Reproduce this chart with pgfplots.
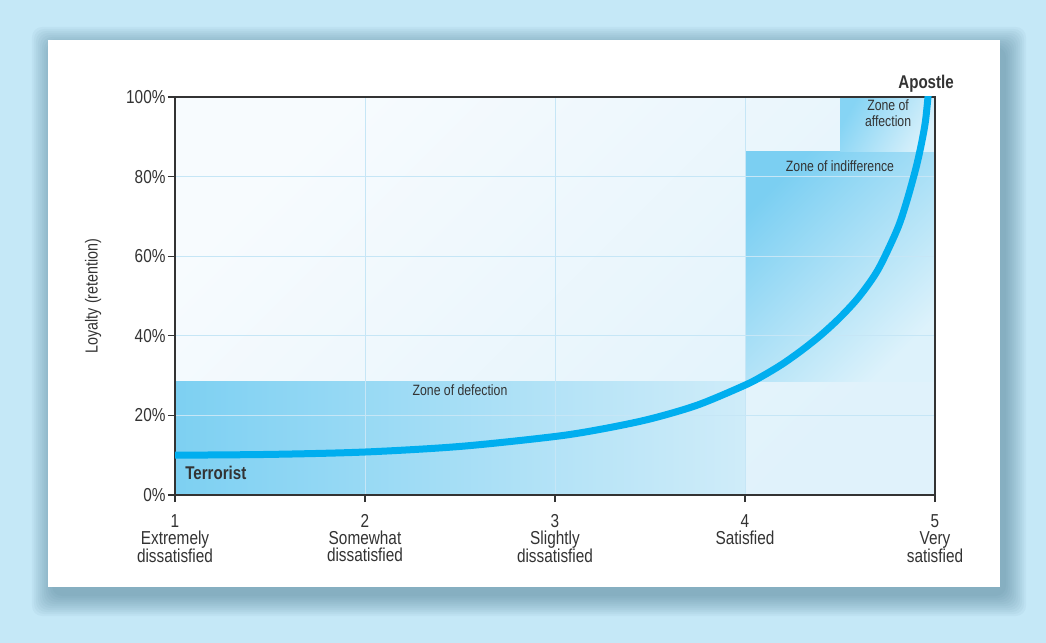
\documentclass[border=0pt]{standalone}
\usepackage{fontspec}
\setmainfont{Liberation Sans}[FakeStretch=0.82]
\usepackage{pgfplots}
\pgfplotsset{compat=1.18}
\definecolor{outerbg}{HTML}{C5E8F7}
\definecolor{shadowc}{HTML}{3F6E86}
\definecolor{axtop}{HTML}{F7FBFE}
\definecolor{axbot}{HTML}{E0F2FB}
\definecolor{gridc}{HTML}{C6E6F6}
\definecolor{axc}{HTML}{333333}
\definecolor{txtc}{HTML}{333333}
\definecolor{curvec}{HTML}{00AEEF}
\definecolor{defA}{HTML}{7DD0F2}
\definecolor{defB}{HTML}{CFECF9}
\definecolor{indA}{HTML}{7BCFF2}
\definecolor{indB}{HTML}{DDF2FB}
\definecolor{affA}{HTML}{86D4F4}
\definecolor{affB}{HTML}{DAF1FB}
\pgfplotsset{
  layers/mylayers/.define layer set={
    bgcard,axis background,axis grid,axis ticks,axis lines,axis tick labels,pre main,main,axis descriptions,axis foreground
  }{
    grid style={/pgfplots/on layer=axis grid},
    tick style={/pgfplots/on layer=axis ticks},
    axis line style={/pgfplots/on layer=axis lines},
    label style={/pgfplots/on layer=axis descriptions},
    legend style={/pgfplots/on layer=axis descriptions},
    title style={/pgfplots/on layer=axis descriptions},
    ticklabel style={/pgfplots/on layer=axis tick labels},
    axis background@ style={/pgfplots/on layer=axis background},
  },
}
\begin{document}
\begin{tikzpicture}
\begin{axis}[
  set layers=mylayers,
  clip mode=individual,
  scale only axis, width=760bp, height=398bp,
  xmin=1, xmax=5, ymin=0, ymax=100,
  axis background/.style={top color=axtop, bottom color=axbot, shading angle=45},
  xtick={1,2,3,4,5},
  xticklabels={{1\\Extremely\\dissatisfied},{2\\Somewhat\\dissatisfied},{3\\Slightly\\dissatisfied},{4\\Satisfied},{5\\Very\\satisfied}},
  ytick={0,20,40,60,80,100},
  yticklabels={0\%,20\%,40\%,60\%,80\%,100\%},
  xtick pos=bottom, ytick pos=left,
  tick align=outside,
  major tick length=7bp,
  grid=major,
  major grid style={draw=gridc, line width=1bp},
  axis line style={draw=axc, line width=1.3bp},
  tick style={draw=axc, line width=1.1bp},
  tick label style={font=\fontsize{18.8}{17}\selectfont, text=txtc},
  xticklabel style={align=center, yshift=-9bp},
  yticklabel style={xshift=1bp},
]
\begin{pgfonlayer}{bgcard}
\path[use as bounding box, fill=outerbg] ([xshift=-175bp,yshift=-148bp]axis cs:1,0) rectangle ([xshift=871bp,yshift=495bp]axis cs:1,0);
\pgfplotsinvokeforeach{1,3,5,7,9,11,13,15,17,19,21}{
  \fill[shadowc, opacity=0.05, rounded corners=10bp] ([xshift=-122bp-#1bp,yshift=-100bp-#1bp]axis cs:1,0) rectangle ([xshift=830bp+#1bp,yshift=447bp+#1bp]axis cs:1,0);
}
\fill[white] ([xshift=-127bp,yshift=-92bp]axis cs:1,0) rectangle ([xshift=825bp,yshift=455bp]axis cs:1,0);
\end{pgfonlayer}

\addplot[draw=none, left color=defA, right color=defB, on layer=axis background] coordinates {(1,0) (4,0) (4,28.6) (1,28.6)} -- cycle;
\addplot[draw=none, top color=indA, bottom color=indB, shading angle=45, on layer=axis background] coordinates {(4,28.6) (5,28.6) (5,86.3) (4,86.3)} -- cycle;
\addplot[draw=none, top color=affA, bottom color=affB, shading angle=60, on layer=axis background] coordinates {(4.5,86.3) (5,86.3) (5,100) (4.5,100)} -- cycle;

\addplot[color=curvec, line width=7bp, smooth, tension=0.5] coordinates {
(1.0,10.0) (1.5,10.2) (2.0,10.8) (2.5,12.2) (3.0,14.7) (3.25,16.6) (3.5,19.1) (3.75,22.6) (4.0,27.6) (4.1,30.1) (4.2,33.0) (4.3,36.4) (4.4,40.2) (4.5,44.6) (4.6,49.8) (4.7,56.6) (4.8,66.6) (4.85,73.6) (4.9,82.2) (4.93,88.6) (4.95,94.0) (4.964,100.5)
};

\node[font=\fontsize{18.5}{18}\selectfont\bfseries, text=txtc, anchor=base, inner sep=0pt, yshift=8bp] at (axis cs:4.953,100) {Apostle};
\node[font=\fontsize{18.5}{18}\selectfont\bfseries, text=txtc, anchor=base west, inner sep=0pt] at (axis cs:1.053,3.8) {Terrorist};
\node[font=\fontsize{15}{16}\selectfont, text=txtc, anchor=base, inner sep=0pt] at (axis cs:2.5,24.9) {Zone of defection};
\node[font=\fontsize{15}{16}\selectfont, text=txtc, anchor=base, inner sep=0pt] at (axis cs:4.5,81.4) {Zone of indifference};
\node[font=\fontsize{15}{16}\selectfont, text=txtc, anchor=north, align=center, inner sep=0pt] at (axis cs:4.753,99.3) {Zone of\\affection};
\node[font=\fontsize{17.5}{17}\selectfont, text=txtc, rotate=90, inner sep=0pt] at ([xshift=-82bp]axis description cs:0,0.5) {Loyalty (retention)};
\end{axis}
\end{tikzpicture}
\end{document}
